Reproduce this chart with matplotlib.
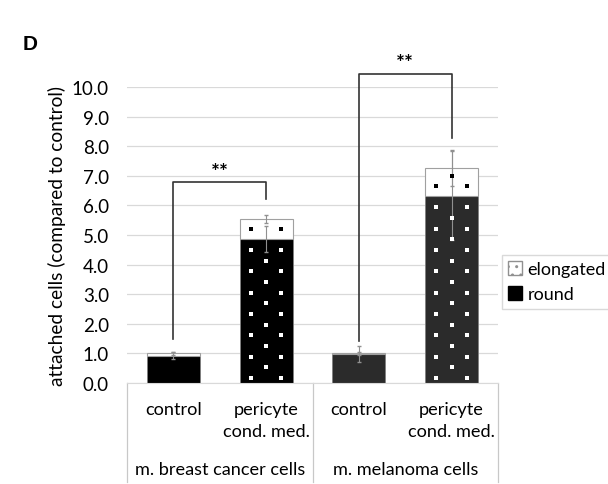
import numpy as np
import matplotlib
matplotlib.use("Agg")
import matplotlib.pyplot as plt
from matplotlib.patches import Patch

categories = ["control", "pericyte\ncond. med.", "control", "pericyte\ncond. med."]
groups = ["m. breast cancer cells", "m. melanoma cells"]
round_vals = [0.92, 4.87, 0.98, 6.33]
total_vals = [1.0, 5.55, 1.0, 7.27]
round_err = [0.12, 0.45, 0.27, 1.5]
total_err = [0.05, 0.13, 0.05, 0.6]
bar_colors = ["#000000", "#000000", "#2b2b2b", "#2b2b2b"]
patterned = [False, True, False, True]
yticks = np.arange(0, 10.5, 1.0)

plt.rcParams["font.family"] = ["Lato", "DejaVu Sans"]

fig = plt.figure(figsize=(6.08, 4.85), dpi=100)
ax = fig.add_axes([127 / 608, 1 - 384 / 485, 371 / 608, 296 / 485])

x = np.arange(len(categories))
elong = np.array(total_vals) - np.array(round_vals)
w = 0.57

ax.bar(x, round_vals, w, color=bar_colors, edgecolor="#808080", linewidth=0.6, zorder=2)
ax.bar(x, elong, w, bottom=round_vals, color="white", edgecolor="#a0a0a0", linewidth=0.8, zorder=2)
ax.errorbar(x, round_vals, yerr=round_err, fmt="none", ecolor="#909090", elinewidth=0.8, capsize=1.5, zorder=3)
ax.errorbar(x, total_vals, yerr=total_err, fmt="none", ecolor="#909090", elinewidth=0.8, capsize=1.5, zorder=3)

# square dot pattern on the pericyte bars
for i in range(len(x)):
    if not patterned[i]:
        continue
    for dx, start in [(-0.29, 0.17), (0.29, 0.17), (0.0, 0.53)]:
        ys = np.arange(start, total_vals[i] - 0.08, 0.72)
        inside = ys < round_vals[i] - 0.08
        ax.plot(np.full(inside.sum(), x[i] + dx * w), ys[inside], "s", color="white", ms=3.1, mew=0, zorder=4)
        top = ys > round_vals[i] + 0.08
        ax.plot(np.full(top.sum(), x[i] + dx * w), ys[top], "s", color="black", ms=3.1, mew=0, zorder=4)

ax.set_xlim(-0.5, 3.5)
ax.set_ylim(0, 10)
ax.set_yticks(yticks)
ax.set_yticklabels(["%.1f" % v for v in yticks], fontsize=13.5)
ax.tick_params(axis="y", length=0, pad=13)
ax.set_xticks([])
ax.grid(axis="y", color="#d9d9d9", linewidth=0.9, zorder=0)
ax.set_axisbelow(True)
for s in ["top", "right", "left"]:
    ax.spines[s].set_visible(False)
ax.spines["bottom"].set_color("#d9d9d9")
ax.set_ylabel("attached cells (compared to control)", fontsize=13.8, labelpad=4)

# category axis
tr = ax.get_xaxis_transform()
for xb in [-0.5, 1.5, 3.5]:
    ax.plot([xb, xb], [0, -0.335], color="#c8c8c8", lw=0.9, transform=tr, clip_on=False)
for i, c in enumerate(categories):
    ax.text(x[i], -0.062, c, transform=tr, ha="center", va="top", fontsize=13.1, linespacing=1.4)
for j, g in enumerate(groups):
    ax.text(0.5 + 2 * j, -0.292, g, transform=tr, ha="center", va="center", fontsize=13.1)

# significance brackets
brackets = [(0, 1, 1.49, 6.22, 6.78), (2, 3, 1.43, 8.27, 10.44)]
for x0, x1, yl, yr, yt in brackets:
    ax.plot([x0, x0, x1, x1], [yl, yt, yt, yr], color="#333333", lw=1.2, clip_on=False, zorder=5)
    ax.text((x0 + x1) / 2, yt + 0.02, "**", ha="center", va="bottom", fontsize=15, fontweight="bold", clip_on=False)

handles = [Patch(facecolor="white", edgecolor="#909090", hatch="..", label="elongated"),
           Patch(facecolor="black", edgecolor="black", label="round")]
fig.legend(handles=handles, loc="upper left", bbox_to_anchor=(502 / 608, 1 - 256 / 485), fontsize=13,
           frameon=True, edgecolor="#d0d0d0", fancybox=False, handlelength=0.75, handleheight=0.75,
           handletextpad=0.3, borderpad=0.35, labelspacing=0.5, borderaxespad=0)

fig.text(23 / 608, 1 - 45 / 485, "D", fontsize=15, fontweight="bold", family="Liberation Sans", va="center")

fig.savefig("out.png", dpi=100)
